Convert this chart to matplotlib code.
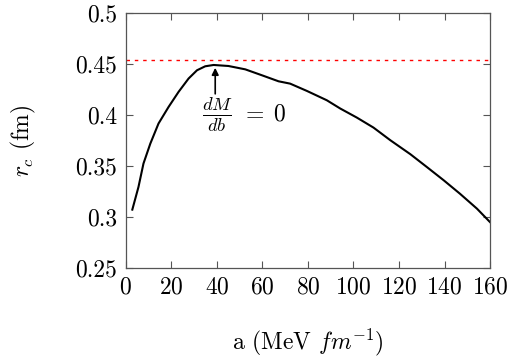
import numpy as np
import matplotlib
matplotlib.use("Agg")
import matplotlib.pyplot as plt

plt.rcParams['font.family'] = 'serif'
plt.rcParams['font.serif'] = ['cmr10']
plt.rcParams['mathtext.fontset'] = 'cm'
plt.rcParams['axes.formatter.use_mathtext'] = True

# curve
a_vals = [2.9, 5.6, 7.8, 10.8, 14.4, 18.8, 23.2, 27.6, 31.3, 34.9, 38.6, 45.1,
          52.5, 59.8, 67.1, 72.2, 79.6, 88.3, 94.2, 101.5, 108.8, 116.2, 125.0,
          132.2, 139.6, 146.7, 154.2, 159.9]
rc_vals = [0.3075, 0.3297, 0.3527, 0.3722, 0.3919, 0.4081, 0.4229, 0.436, 0.4441,
           0.448, 0.4493, 0.4483, 0.445, 0.4392, 0.4333, 0.431, 0.4238, 0.4147,
           0.4066, 0.3977, 0.3879, 0.3755, 0.3618, 0.3493, 0.3363, 0.3232,
           0.3085, 0.2954]
rc_limit = 0.4545

x_ticks = [0, 20, 40, 60, 80, 100, 120, 140, 160]
y_ticks = [0.25, 0.3, 0.35, 0.4, 0.45, 0.5]
y_tick_labels = ['0.25', '0.3', '0.35', '0.4', '0.45', '0.5']

fig = plt.figure(figsize=(5.1, 3.58), dpi=100)
ax = fig.add_axes([0.2465, 0.2506, 0.7145, 0.7124])

ax.plot(a_vals, rc_vals, color='black', lw=1.5)
ax.axhline(rc_limit, color='red', lw=1.0, ls=(0, (2.5, 3.5)))

ax.annotate('', xy=(39.3, 0.4465), xytext=(39.3, 0.421),
            arrowprops=dict(arrowstyle='-|>', color='black', lw=1.2,
                            mutation_scale=10, shrinkA=0, shrinkB=0))
# fraction is set a bit larger than the "= 0" part, as in the original
ax.text(40.5, 0.4005, r'$\frac{dM}{db}$', fontsize=19, ha='center', va='center')
ax.text(50.8, 0.4005, r'$=\;0$', fontsize=17, ha='left', va='center')

ax.set_xlim(0, 160)
ax.set_ylim(0.25, 0.5)
ax.set_xticks(x_ticks)
ax.set_yticks(y_ticks)
ax.set_yticklabels(y_tick_labels)
ax.tick_params(direction='in', length=5, width=0.8, color='#555555',
               top=True, right=True, labelsize=17, pad=6)
for s in ax.spines.values():
    s.set_color('#555555')
    s.set_linewidth(0.9)

ax.set_xlabel(r'a (MeV $fm^{-1}$)', fontsize=17, labelpad=20)
ax.set_ylabel(r'$r_c$ (fm)', fontsize=17, labelpad=27)

fig.savefig('out.png', dpi=100)
